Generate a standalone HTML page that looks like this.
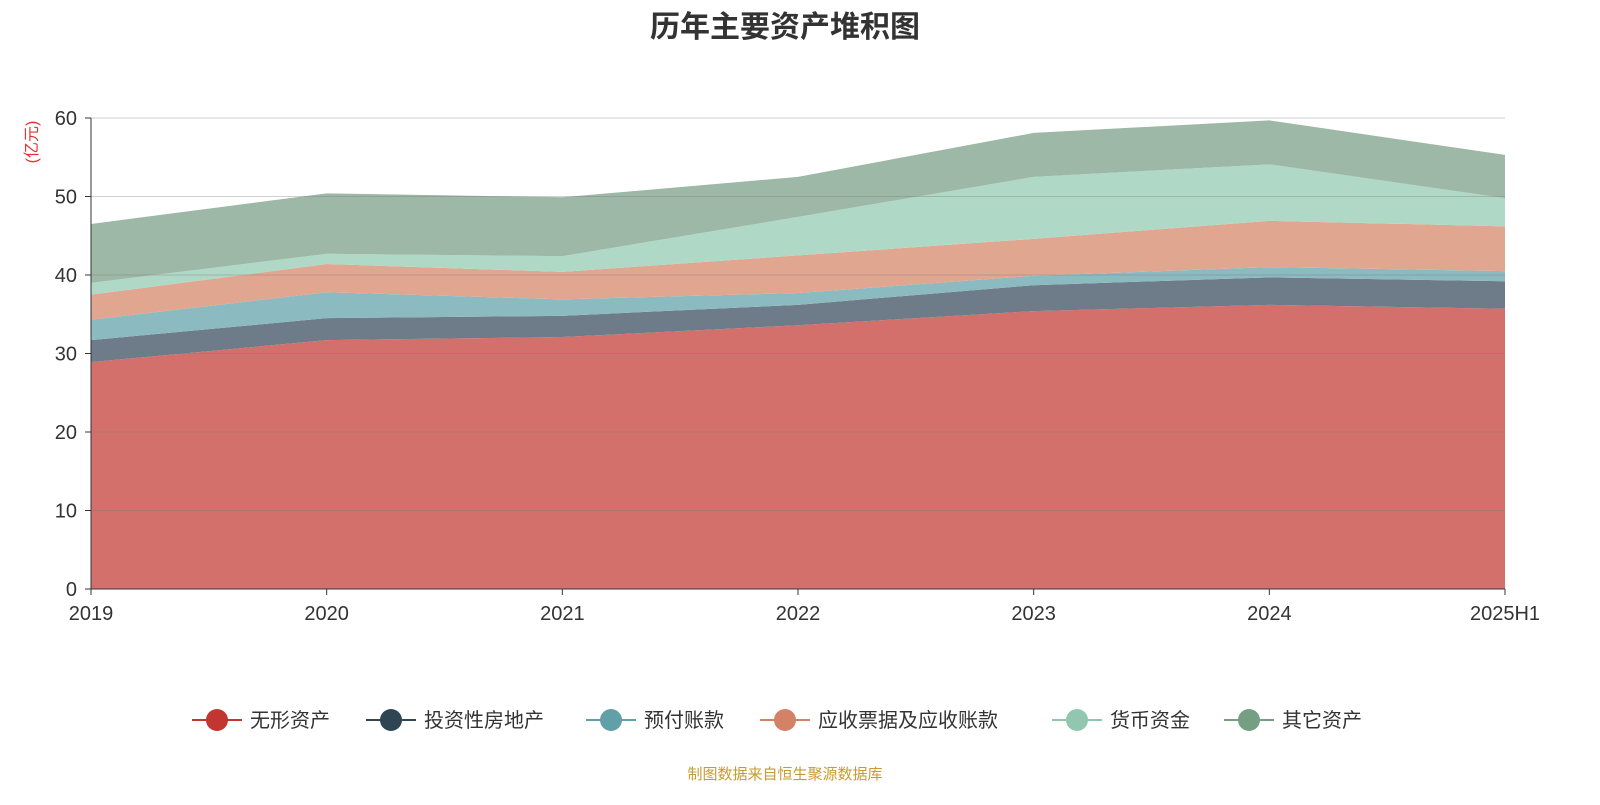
<!DOCTYPE html>
<html><head><meta charset="utf-8"><style>
body{margin:0;background:#fff;font-family:"Liberation Sans","Noto Sans CJK SC",sans-serif;}
svg text{font-family:"Liberation Sans","Noto Sans CJK SC",sans-serif;}
</style></head><body>
<svg id="c" width="1600" height="800">
<text x="785" y="37" text-anchor="middle" font-size="30" font-weight="bold" fill="#333">历年主要资产堆积图</text>
<text transform="translate(37,142) rotate(-90)" text-anchor="middle" font-size="16" fill="#e83030">(亿元)</text>
<g id="areas"></g><g id="grid"></g><g id="axes"></g><g id="legend"></g>
<text x="785" y="779" text-anchor="middle" font-size="15" fill="#c99a30">制图数据来自恒生聚源数据库</text>
</svg>
<script>
const categories=["2019","2020","2021","2022","2023","2024","2025H1"];
const seriesNames=["无形资产","投资性房地产","预付账款","应收票据及应收账款","货币资金","其它资产"];
const s0=[28.9,31.7,32.1,33.6,35.4,36.2,35.7];
const s1=[2.8,2.8,2.7,2.6,3.3,3.5,3.5];
const s2=[2.6,3.3,2.1,1.5,1.2,1.3,1.3];
const s3=[3.2,3.6,3.5,4.8,4.7,5.9,5.7];
const s4=[1.5,1.3,2.0,4.9,7.9,7.2,3.6];
const s5=[7.5,7.7,7.5,5.1,5.6,5.6,5.5];
const yTicks=[0,10,20,30,40,50,60];
const series=[s0,s1,s2,s3,s4,s5];
const fills=["#d4706c","#6e7b88","#8bbac1","#e0a690","#b0d8c6","#9db8a6"];
const marks=["#c23531","#2f4554","#61a0a8","#d48265","#91c7ae","#749f83"];
const NS="http://www.w3.org/2000/svg";
const X0=91,X1=1505,Y0=589,Y1=118;
const xs=i=>X0+(X1-X0)*i/(categories.length-1);
const ys=v=>Y0-(Y0-Y1)*v/60;
function mk(t,a,p){const e=document.createElementNS(NS,t);for(const k in a)e.setAttribute(k,a[k]);p.appendChild(e);return e;}
let base=categories.map(()=>0);
series.forEach((s,k)=>{
  const top=base.map((b,i)=>b+s[i]);
  let d="M"+categories.map((c,i)=>xs(i)+","+ys(top[i])).join("L");
  for(let i=categories.length-1;i>=0;i--)d+="L"+xs(i)+","+ys(base[i]);
  const p=mk("path",{d:d+"Z",fill:fills[k]},document.getElementById("areas"));
  
  
  base=top;
});
const g=document.getElementById("grid"),ax=document.getElementById("axes");
yTicks.forEach(v=>{
  if(v>0){const l=mk("line",{x1:X0,x2:X1,y1:ys(v),y2:ys(v),stroke:v==60?"#ccc":"rgba(120,120,120,0.35)"},g);
  
  }
  mk("line",{x1:X0-6,x2:X0,y1:ys(v),y2:ys(v),stroke:"#333"},ax);
  const t=mk("text",{x:X0-14,y:ys(v)+7,"text-anchor":"end","font-size":20,fill:"#333"},ax);t.textContent=v;
  
  
});
mk("line",{x1:X0,x2:X0,y1:Y1,y2:Y0,stroke:"#333"},ax);
mk("line",{x1:X0,x2:X1,y1:Y0,y2:Y0,stroke:"#333"},ax);
categories.forEach((c,i)=>{
  mk("line",{x1:xs(i),x2:xs(i),y1:Y0,y2:Y0+6,stroke:"#333"},ax);
  const t=mk("text",{x:xs(i),y:620,"text-anchor":"middle","font-size":20,fill:"#333"},ax);t.textContent=c;
  
  
});
const lg=document.getElementById("legend");
const lx=[192,366,586,760,1052,1224];
seriesNames.forEach((n,k)=>{
  const gg=mk("g",{},lg);
  
  
  mk("line",{x1:lx[k],x2:lx[k]+50,y1:720,y2:720,stroke:marks[k],"stroke-width":2},gg);
  mk("circle",{cx:lx[k]+25,cy:720,r:11,fill:marks[k]},gg);
  const t=mk("text",{x:lx[k]+58,y:727,"font-size":20,fill:"#333"},gg);t.textContent=n;
});
</script>
</body></html>
